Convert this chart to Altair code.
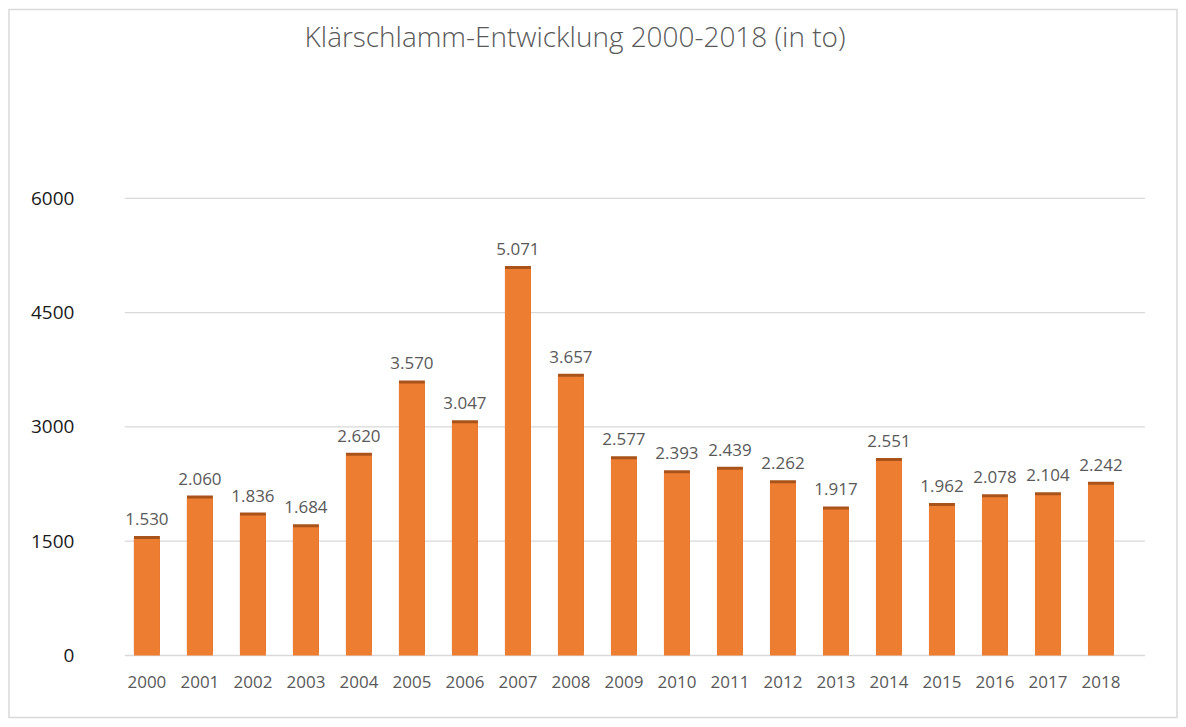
import altair as alt
import pandas as pd

years = [str(y) for y in range(2000, 2019)]
values = [1530, 2060, 1836, 1684, 2620, 3570, 3047, 5071, 3657, 2577,
          2393, 2439, 2262, 1917, 2551, 1962, 2078, 2104, 2242]
y_ticks = [0, 1500, 3000, 4500, 6000]
title_text = "Klärschlamm-Entwicklung 2000-2018 (in to)"

df = pd.DataFrame({
    "Jahr": years,
    "Menge": values,
    "Label": [f"{v:,}".replace(",", ".") for v in values],
})
grid_df = pd.DataFrame({"t": y_ticks})
title_df = pd.DataFrame({"t": [title_text]})

W, H = 1004, 458
FONT = "Open Sans"

x_enc = alt.X("Jahr:N", sort=years,
              scale=alt.Scale(paddingInner=0.51, paddingOuter=0.21),
              axis=alt.Axis(title=None, labelAngle=0, labelFontSize=17,
                            labelColor="#595959", labelFont=FONT,
                            labelPadding=19, ticks=False, domain=False,
                            zindex=2))
y_scale = alt.Scale(domain=[0, 6000])

border = alt.Chart(title_df).mark_rect(
    fillOpacity=0, stroke="#d9d9d9", strokeWidth=1.5
).encode(x=alt.value(-114), x2=alt.value(W + 52),
         y=alt.value(-189), y2=alt.value(H + 62))

grid = alt.Chart(grid_df).mark_rule(color="#d9d9d9", strokeWidth=1.3).encode(
    y=alt.Y("t:Q", scale=y_scale,
            axis=alt.Axis(title=None, values=y_ticks, format="d",
                          labelFontSize=19, labelColor="#1a1a1a",
                          labelFont=FONT, labelPadding=49,
                          ticks=False, domain=False, grid=False, zindex=2)),
    x=alt.value(2), x2=alt.value(W + 20),
)

shade = alt.Chart(df).mark_bar(color="#a9531b", yOffset=-3).encode(
    x=x_enc, y=alt.Y("Menge:Q", scale=y_scale))

bars = alt.Chart(df).mark_bar(color="#ED7D31").encode(
    x=x_enc, y=alt.Y("Menge:Q", scale=y_scale))

labels = alt.Chart(df).mark_text(
    dy=-14, baseline="alphabetic", fontSize=17,
    color="#595959", font=FONT
).encode(x=x_enc, y=alt.Y("Menge:Q", scale=y_scale), text="Label:N")

title = alt.Chart(title_df).mark_text(
    fontSize=28, fontWeight=300, color="#595959", font=FONT,
    baseline="middle", align="center"
).encode(x=alt.value(453), y=alt.value(-160), text="t:N")

chart = alt.layer(border, grid, shade, bars, labels, title).properties(
    width=W, height=H, padding={"left": 0, "top": 0, "right": 0, "bottom": 0}
).configure(
    background="white", view=alt.ViewConfig(strokeWidth=0, stroke="transparent")
)

chart.save("out.html", embed_options={"renderer": "svg", "actions": False})
